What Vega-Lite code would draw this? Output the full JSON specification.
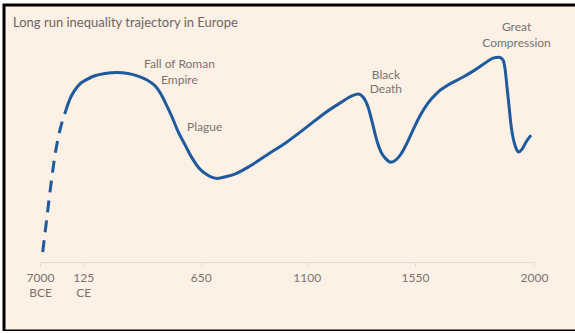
{
  "$schema": "https://vega.github.io/schema/vega-lite/v6.json",
  "width": 575,
  "height": 326,
  "autosize": {"type": "none"},
  "padding": {"left": 4, "top": 5, "right": 0, "bottom": 0},
  "background": "white",
  "config": {
    "view": {"fill": "#fdf0e5", "stroke": "#000000", "strokeWidth": 3},
    "font": "Lato"
  },
  "title": {
    "text": "Long run inequality trajectory in Europe",
    "anchor": "start",
    "frame": "group",
    "offset": -25,
    "dx": 9,
    "fontSize": 13,
    "fontWeight": "normal",
    "font": "Lato",
    "color": "#6b6663"
  },
  "data": {
    "values": [
      {"year": -6556, "v": 24.2, "seg": "dashed"},
      {"year": -6013, "v": 32.5, "seg": "dashed"},
      {"year": -5519, "v": 40.2, "seg": "dashed"},
      {"year": -5108, "v": 46.3, "seg": "dashed"},
      {"year": -4648, "v": 52.5, "seg": "dashed"},
      {"year": -4204, "v": 57.4, "seg": "dashed"},
      {"year": -3710, "v": 61.7, "seg": "dashed"},
      {"year": -3217, "v": 65.0, "seg": "dashed"},
      {"year": -2723, "v": 67.8, "seg": "dashed"},
      {"year": -2723, "v": 67.8, "seg": "solid"},
      {"year": -2065, "v": 71.2, "seg": "solid"},
      {"year": -1407, "v": 73.5, "seg": "solid"},
      {"year": -420, "v": 75.8, "seg": "solid"},
      {"year": 142, "v": 77.2, "seg": "solid"},
      {"year": 177, "v": 78.3, "seg": "solid"},
      {"year": 222, "v": 79.0, "seg": "solid"},
      {"year": 276, "v": 79.3, "seg": "solid"},
      {"year": 325, "v": 79.0, "seg": "solid"},
      {"year": 370, "v": 78.2, "seg": "solid"},
      {"year": 410, "v": 77.0, "seg": "solid"},
      {"year": 446, "v": 75.2, "seg": "solid"},
      {"year": 472, "v": 72.7, "seg": "solid"},
      {"year": 495, "v": 69.6, "seg": "solid"},
      {"year": 522, "v": 65.6, "seg": "solid"},
      {"year": 548, "v": 61.3, "seg": "solid"},
      {"year": 580, "v": 57.1, "seg": "solid"},
      {"year": 611, "v": 53.1, "seg": "solid"},
      {"year": 642, "v": 50.0, "seg": "solid"},
      {"year": 677, "v": 47.9, "seg": "solid"},
      {"year": 720, "v": 46.8, "seg": "solid"},
      {"year": 760, "v": 47.4, "seg": "solid"},
      {"year": 800, "v": 48.3, "seg": "solid"},
      {"year": 859, "v": 50.6, "seg": "solid"},
      {"year": 931, "v": 54.0, "seg": "solid"},
      {"year": 1016, "v": 58.0, "seg": "solid"},
      {"year": 1101, "v": 62.6, "seg": "solid"},
      {"year": 1176, "v": 66.9, "seg": "solid"},
      {"year": 1238, "v": 69.9, "seg": "solid"},
      {"year": 1288, "v": 72.1, "seg": "solid"},
      {"year": 1313, "v": 72.7, "seg": "solid"},
      {"year": 1334, "v": 71.8, "seg": "solid"},
      {"year": 1355, "v": 68.7, "seg": "solid"},
      {"year": 1375, "v": 63.2, "seg": "solid"},
      {"year": 1392, "v": 58.3, "seg": "solid"},
      {"year": 1409, "v": 54.9, "seg": "solid"},
      {"year": 1429, "v": 52.8, "seg": "solid"},
      {"year": 1450, "v": 51.8, "seg": "solid"},
      {"year": 1471, "v": 52.5, "seg": "solid"},
      {"year": 1492, "v": 54.3, "seg": "solid"},
      {"year": 1517, "v": 57.7, "seg": "solid"},
      {"year": 1542, "v": 61.7, "seg": "solid"},
      {"year": 1569, "v": 66.0, "seg": "solid"},
      {"year": 1599, "v": 69.9, "seg": "solid"},
      {"year": 1637, "v": 73.3, "seg": "solid"},
      {"year": 1682, "v": 75.8, "seg": "solid"},
      {"year": 1732, "v": 77.9, "seg": "solid"},
      {"year": 1777, "v": 80.1, "seg": "solid"},
      {"year": 1815, "v": 82.2, "seg": "solid"},
      {"year": 1845, "v": 83.7, "seg": "solid"},
      {"year": 1868, "v": 84.0, "seg": "solid"},
      {"year": 1883, "v": 83.1, "seg": "solid"},
      {"year": 1891, "v": 80.1, "seg": "solid"},
      {"year": 1898, "v": 74.8, "seg": "solid"},
      {"year": 1906, "v": 68.7, "seg": "solid"},
      {"year": 1913, "v": 63.2, "seg": "solid"},
      {"year": 1921, "v": 59.2, "seg": "solid"},
      {"year": 1932, "v": 56.1, "seg": "solid"},
      {"year": 1943, "v": 54.9, "seg": "solid"},
      {"year": 1955, "v": 55.8, "seg": "solid"},
      {"year": 1970, "v": 58.0, "seg": "solid"},
      {"year": 1989, "v": 60.1, "seg": "solid"}
    ]
  },
  "encoding": {
    "x": {
      "field": "year",
      "type": "quantitative",
      "scale": {
        "domain": [-7000, 125, 650, 1100, 1550, 2000],
        "range": [36, 79.3, 196.7, 302.7, 411, 530],
        "nice": false,
        "zero": false
      },
      "axis": {
        "title": null,
        "values": [-7000, 125, 650, 1100, 1550, 2000],
        "format": "d",
        "labelExpr": "datum.value == -7000 ? ['7000', 'BCE'] : datum.value == 125 ? ['125', 'CE'] : datum.label",
        "offset": -69,
        "grid": false,
        "domainColor": "#e6dacd",
        "tickColor": "#e6dacd",
        "tickSize": 4,
        "labelPadding": 6,
        "labelFontSize": 12,
        "labelFont": "Lato",
        "labelColor": "#7a736e",
        "labelLineHeight": 15,
        "labelFlush": false,
        "labelOverlap": false
      }
    },
    "y": {
      "field": "v",
      "type": "quantitative",
      "scale": {"domain": [0, 100], "nice": false, "zero": false},
      "axis": null
    }
  },
  "layer": [
    {
      "transform": [{"filter": "datum.seg == 'dashed'"}],
      "mark": {"type": "line", "color": "#1f5a9c", "strokeWidth": 3, "strokeDash": [12, 8], "interpolate": "monotone"}
    },
    {
      "transform": [{"filter": "datum.seg == 'solid'"}],
      "mark": {"type": "line", "color": "#1f5a9c", "strokeWidth": 3, "interpolate": "monotone"}
    },
    {
      "data": {
        "values": [
          {"year": 555, "v": 81.9, "label": "Fall of Roman"},
          {"year": 555, "v": 77.0, "label": "Empire"},
          {"year": 667, "v": 62.5, "label": "Plague"},
          {"year": 1429, "v": 78.6, "label": "Black"},
          {"year": 1429, "v": 74.1, "label": "Death"},
          {"year": 1934, "v": 93.2, "label": "Great"},
          {"year": 1934, "v": 88.4, "label": "Compression"}
        ]
      },
      "mark": {"type": "text", "font": "Lato", "fontSize": 12, "color": "#7a736e", "align": "center", "baseline": "middle"},
      "encoding": {"text": {"field": "label"}}
    }
  ]
}
